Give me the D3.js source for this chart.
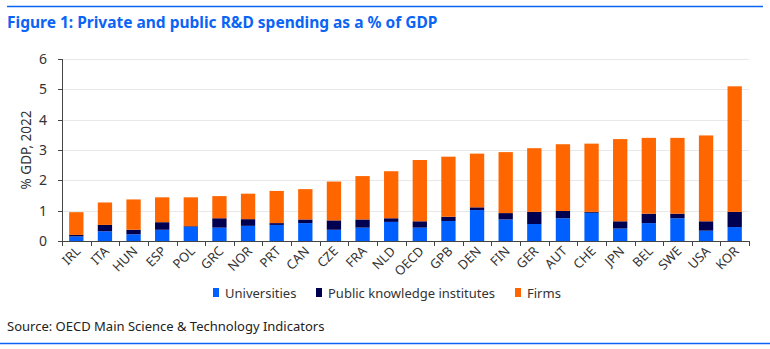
<!DOCTYPE html>
<head>
  <meta charset="utf-8">
  <script src="https://d3js.org/d3.v7.min.js"></script>
  <style>
    body { margin: 0; background: #fff; font-family: "Segoe UI", "Noto Sans", "Open Sans", sans-serif; }
    .title { font-size: 15.5px; font-weight: bold; fill: #0a64f5; }
    .tick-y text { font-size: 14px; fill: #333; }
    .tick-x text { font-size: 13px; fill: #333; }
    .ylabel { font-size: 13.5px; fill: #333; }
    .legend text { font-size: 13px; fill: #333; }
    .source { font-size: 13px; fill: #222; }
  </style>
</head>
<body>
  <div id="vis"></div>
  <script>
    // R&D spending 2022, % of GDP, by performer
    var countries = ["IRL", "ITA", "HUN", "ESP", "POL", "GRC", "NOR", "PRT", "CAN", "CZE", "FRA", "NLD",
      "OECD", "GPB", "DEN", "FIN", "GER", "AUT", "CHE", "JPN", "BEL", "SWE", "USA", "KOR"];
    var universities = [0.15, 0.32, 0.22, 0.37, 0.47, 0.44, 0.50, 0.53, 0.59, 0.37, 0.44, 0.63,
      0.44, 0.66, 1.02, 0.71, 0.56, 0.75, 0.93, 0.41, 0.59, 0.75, 0.34, 0.46];
    var publicInst = [0.05, 0.21, 0.15, 0.25, 0.02, 0.31, 0.22, 0.06, 0.12, 0.31, 0.27, 0.12,
      0.21, 0.14, 0.09, 0.21, 0.40, 0.24, 0.03, 0.24, 0.31, 0.15, 0.31, 0.50];
    var firms = [0.75, 0.74, 1.00, 0.82, 0.95, 0.73, 0.84, 1.06, 1.00, 1.28, 1.43, 1.55,
      2.02, 1.98, 1.77, 2.01, 2.10, 2.20, 2.25, 2.71, 2.50, 2.50, 2.83, 4.14];
    var yTicks = [0, 1, 2, 3, 4, 5, 6];
    var seriesNames = ["Universities", "Public knowledge institutes", "Firms"];
    var seriesColors = ["#0060ff", "#000050", "#ff6600"];

    var W = 770, H = 349;
    var plotLeft = 62, plotRight = 749, plotTop = 59, plotBottom = 241;

    var svg = d3.select("#vis").append("svg")
      .attr("width", W)
      .attr("height", H);

    // blue rules above title and below source
    svg.append("line").attr("x1", 7).attr("x2", 763).attr("y1", 6.5).attr("y2", 6.5)
      .attr("stroke", "#0a64f5").attr("stroke-width", 1.5);
    svg.append("line").attr("x1", 0).attr("x2", 770).attr("y1", 343.5).attr("y2", 343.5)
      .attr("stroke", "#0a64f5").attr("stroke-width", 1.5);

    svg.append("text").attr("class", "title")
      .attr("x", 7).attr("y", 28)
      .text("Figure 1: Private and public R&D spending as a % of GDP");

    var x = d3.scaleBand()
      .domain(countries)
      .range([plotLeft, plotRight])
      .padding(0);

    var y = d3.scaleLinear()
      .domain([0, 6])
      .range([plotBottom, plotTop]);

    // gridlines
    svg.append("g")
      .selectAll("line")
      .data(yTicks.filter(d => d > 0))
      .enter().append("line")
      .attr("x1", plotLeft).attr("x2", plotRight)
      .attr("y1", d => Math.round(y(d)) + 0.5).attr("y2", d => Math.round(y(d)) + 0.5)
      .attr("stroke", "#e8e8e8").attr("stroke-width", 1);

    // stacked bars
    var rows = countries.map(function (c, i) {
      return { country: c, u: universities[i], p: publicInst[i], f: firms[i] };
    });
    var stack = d3.stack().keys(["u", "p", "f"])(rows);
    var barW = x.bandwidth() * 0.5;

    svg.append("g")
      .selectAll("g")
      .data(stack)
      .enter().append("g")
      .attr("fill", (d, i) => seriesColors[i])
      .selectAll("rect")
      .data(d => d)
      .enter().append("rect")
      .attr("x", d => x(d.data.country) + (x.bandwidth() - barW) / 2)
      .attr("width", barW)
      .attr("y", d => y(d[1]))
      .attr("height", d => y(d[0]) - y(d[1]));

    // y axis
    var yAxis = svg.append("g").attr("class", "tick-y");
    yAxis.append("line")
      .attr("x1", plotLeft + 0.5).attr("x2", plotLeft + 0.5)
      .attr("y1", plotTop).attr("y2", plotBottom)
      .attr("stroke", "#444");
    var yt = yAxis.selectAll("g").data(yTicks).enter().append("g")
      .attr("transform", d => "translate(0," + Math.round(y(d)) + ")");
    yt.append("line").attr("x1", plotLeft - 4).attr("x2", plotLeft).attr("y1", 0.5).attr("y2", 0.5).attr("stroke", "#444");
    yt.append("text")
      .attr("x", plotLeft - 15).attr("dy", "0.35em")
      .attr("text-anchor", "end")
      .text(d => d);

    svg.append("text").attr("class", "ylabel")
      .attr("transform", "translate(31," + ((plotTop + plotBottom) / 2) + ") rotate(-90)")
      .attr("text-anchor", "middle")
      .text("% GDP, 2022");

    // x axis
    var xAxis = svg.append("g").attr("class", "tick-x");
    xAxis.append("line")
      .attr("x1", plotLeft).attr("x2", plotRight)
      .attr("y1", plotBottom + 0.5).attr("y2", plotBottom + 0.5)
      .attr("stroke", "#444");
    xAxis.selectAll("line.tk")
      .data(d3.range(countries.length + 1))
      .enter().append("line")
      .attr("class", "tk")
      .attr("x1", i => Math.round(plotLeft + i * x.step()) + 0.5)
      .attr("x2", i => Math.round(plotLeft + i * x.step()) + 0.5)
      .attr("y1", plotBottom).attr("y2", plotBottom + 5)
      .attr("stroke", "#444");
    xAxis.selectAll("text")
      .data(countries)
      .enter().append("text")
      .attr("text-anchor", "end")
      .attr("transform", d => "translate(" + (x(d) + x.bandwidth() / 2 + 5) + "," + (plotBottom + 11) + ") rotate(-45)")
      .text(d => d);

    // legend
    var legendX = [213, 316, 515];
    var legend = svg.append("g").attr("class", "legend")
      .selectAll("g")
      .data(seriesNames)
      .enter().append("g")
      .attr("transform", (d, i) => "translate(" + legendX[i] + ",288)");
    legend.append("rect")
      .attr("width", 6).attr("height", 9)
      .attr("fill", (d, i) => seriesColors[i]);
    legend.append("text")
      .attr("x", 12).attr("y", 9.5)
      .text(d => d);

    svg.append("text").attr("class", "source")
      .attr("x", 7).attr("y", 331)
      .text("Source: OECD Main Science & Technology Indicators");
  </script>
</body>
